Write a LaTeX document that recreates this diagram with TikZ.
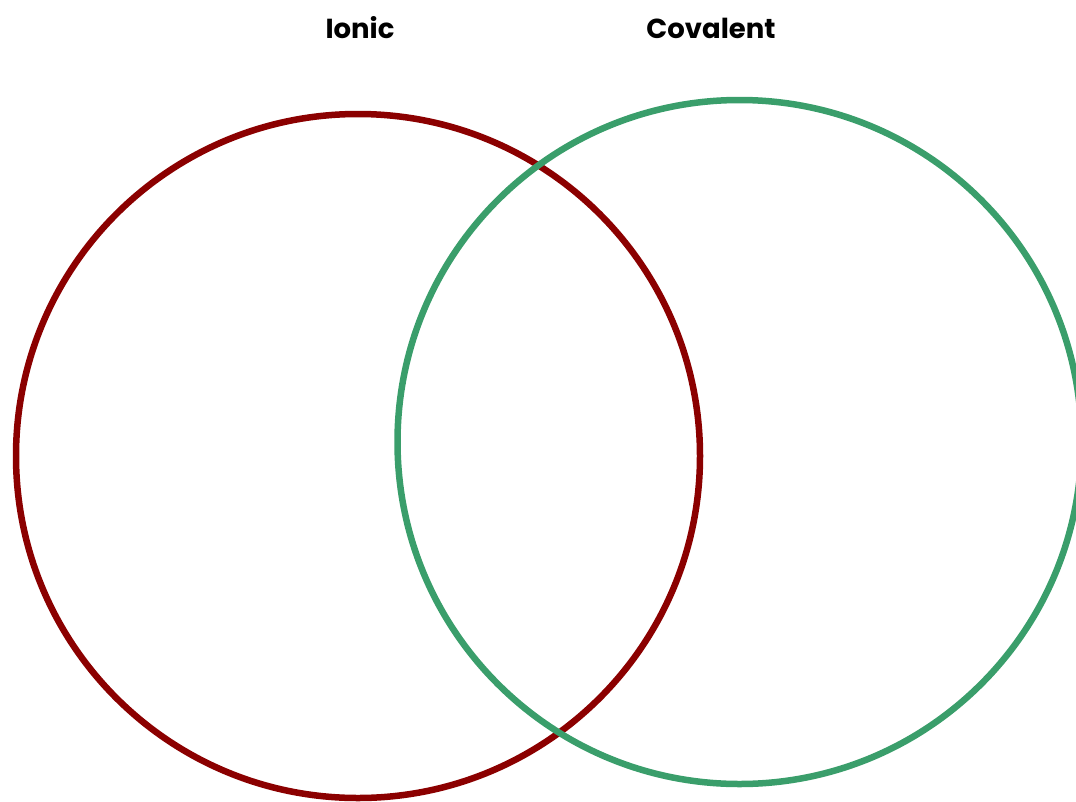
\documentclass[tikz,border=0pt]{standalone}
\usepackage{fontspec}
\setmainfont{Poppins}
\definecolor{ionicred}{HTML}{8B0000}
\definecolor{covgreen}{HTML}{3A9E6B}
\begin{document}
\begin{tikzpicture}[x=1pt,y=-1pt,
  ring/.style={circle,draw,line width=6.5pt,minimum size=684pt,inner sep=0pt},
  title/.style={anchor=base,font=\fontsize{27.5}{32}\selectfont\bfseries,text=black}]
\useasboundingbox (0,0) rectangle (1076,801);
\clip (0,0) rectangle (1076,801);
\node[ring,draw=ionicred] (ionic) at (358,456) {};
\node[ring,draw=covgreen] (covalent) at (739.5,442) {};
\node[title] (tionic) at (360,38) {Ionic};
\node[title] (tcov) at (711,38) {Covalent};
\end{tikzpicture}
\end{document}
